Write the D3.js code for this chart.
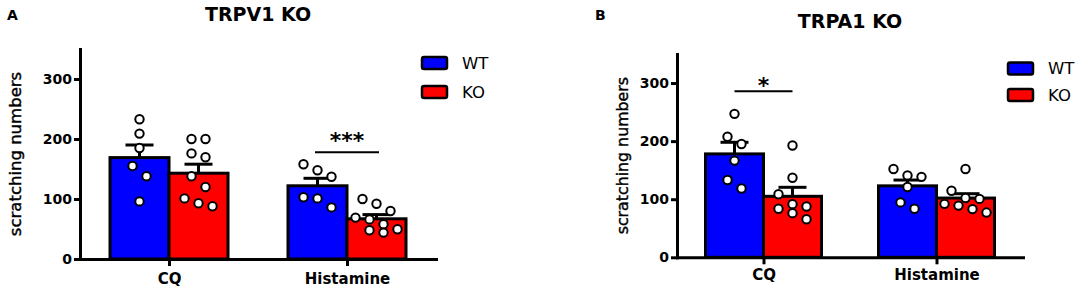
<!DOCTYPE html>
<html>

<head>
	<title>TRPV1 / TRPA1 KO scratching</title>
	<style>
		body,
		html {
			margin: 0;
			padding: 0;
			background: #fff;
		}

		text {
			font-family: 'DejaVu Sans', sans-serif;
		}
	</style>
</head>

<body>

	<svg id="svg" width="1084" height="291"></svg>

	<script src="https://d3js.org/d3.v7.min.js"></script>
	<script>
		// Data
		const groups = ['CQ', 'Histamine']
		const genotypes = ['WT', 'KO']
		const yTicks = [0, 100, 200, 300]

		// Panel A - TRPV1 KO
		const trpv1WtMean = [169, 122]
		const trpv1KoMean = [143, 67]
		const trpv1WtSem = [21, 12.5]
		const trpv1KoSem = [15, 7]
		const trpv1WtPoints = [
			[233, 209, 185, 155, 138, 96],
			[158, 148, 137, 103, 101, 86]
		]
		const trpv1KoPoints = [
			[200, 200, 176, 169.5, 138, 120, 101, 93, 88],
			[100, 92, 80, 69, 66, 58, 49.5, 48, 44]
		]

		// Panel B - TRPA1 KO
		const trpa1WtMean = [178, 123]
		const trpa1KoMean = [105, 102]
		const trpa1WtSem = [20, 10]
		const trpa1KoSem = [15.5, 7.5]
		const trpa1WtPoints = [
			[247, 207.5, 195, 166.5, 133, 118.5],
			[152, 141, 138.5, 121, 94.5, 83.5]
		]
		const trpa1KoPoints = [
			[192.5, 137, 108.5, 91.5, 87.5, 83.5, 76, 65.5],
			[152, 114.5, 102, 100.5, 92, 89, 83, 77]
		]

		const colors = { WT: '#0000ff', KO: '#ff0000' }

		const svg = d3.select('#svg')

		// Spread the dots of one bar in rows, like a scatter dot plot
		function swarm(values, y, cx, step) {
			const sorted = values.slice().sort((a, b) => b - a)
			const out = []
			let row = []
			const flush = () => {
				row.forEach((v, i) => out.push({ v, x: cx + (i - (row.length - 1) / 2) * step }))
				row = []
			}
			sorted.forEach(v => {
				if (row.length && (y(v) - y(row[0]) >= 13 || row.length === 4)) flush()
				row.push(v)
			})
			flush()
			return out
		}

		function drawPanel(p) {
			const g = svg.append('g')

			const x = d3.scalePoint()
				.domain(groups)
				.range([p.left, p.right])
				.padding(0.5)

			const y = d3.scaleLinear()
				.domain([0, 350])
				.range([p.bottom, p.top])

			const series = [
				{ key: 'WT', mean: p.wtMean, sem: p.wtSem, pts: p.wtPoints, side: -1 },
				{ key: 'KO', mean: p.koMean, sem: p.koSem, pts: p.koPoints, side: 1 }
			]

			// one record per bar
			const bars = []
			series.forEach(s => groups.forEach((grp, i) => {
				const cx = x(grp) + s.side * p.barW / 2
				bars.push({ key: s.key, grp, cx, mean: s.mean[i], sem: s.sem[i], pts: s.pts[i] })
			}))

			// bars
			g.selectAll('rect.bar')
				.data(bars)
				.join('rect')
				.attr('class', 'bar')
				.attr('x', d => d.cx - p.barW / 2)
				.attr('y', d => y(d.mean))
				.attr('width', p.barW)
				.attr('height', d => y(0) - y(d.mean))
				.attr('fill', d => colors[d.key])
				.attr('stroke', '#000')
				.attr('stroke-width', 3)

			// error bars (upper half only)
			const err = g.selectAll('g.err')
				.data(bars)
				.join('g')
				.attr('class', 'err')
				.attr('stroke', '#000')
				.attr('stroke-width', 3)
			err.append('line')
				.attr('x1', d => d.cx).attr('x2', d => d.cx)
				.attr('y1', d => y(d.mean)).attr('y2', d => y(d.mean + d.sem))
			err.append('line')
				.attr('x1', d => d.cx - 14).attr('x2', d => d.cx + 14)
				.attr('y1', d => y(d.mean + d.sem)).attr('y2', d => y(d.mean + d.sem))

			// individual animals
			bars.forEach(b => {
				g.append('g')
					.selectAll('circle')
					.data(swarm(b.pts, y, b.cx, 14))
					.join('circle')
					.attr('cx', d => d.x)
					.attr('cy', d => y(d.v))
					.attr('r', 4.2)
					.attr('fill', '#fff')
					.attr('stroke', '#000')
					.attr('stroke-width', 2)
			})

			// axes
			const yAxis = g.append('g')
				.attr('transform', `translate(${p.left},0)`)
				.call(d3.axisLeft(y).tickValues(yTicks).tickSize(6).tickSizeOuter(0).tickPadding(2))
			const xAxis = g.append('g')
				.attr('transform', `translate(0,${p.bottom})`)
				.call(d3.axisBottom(x).tickSize(7).tickSizeOuter(0).tickPadding(p.xPad))

			;[yAxis, xAxis].forEach(a => {
				a.selectAll('path, line').attr('stroke', '#000').attr('stroke-width', 3)
				a.select('.domain').attr('stroke-linecap', 'square')
				a.selectAll('text')
					.attr('fill', '#000')
					.style('font-family', 'DejaVu Sans')
					.style('font-weight', 'bold')
			})
			yAxis.selectAll('text').style('font-size', '14px')
			xAxis.selectAll('text').style('font-size', '15px')

			// y label
			g.append('text')
				.attr('transform', `translate(${p.yLabX},${(p.top + p.bottom) / 2}) rotate(-90)`)
				.attr('text-anchor', 'middle')
				.attr('dominant-baseline', 'central')
				.attr('stroke', '#000').attr('stroke-width', 0.4)
				.style('font-size', p.yLabSize + 'px')
				.text('scratching numbers')

			// title and panel letter
			g.append('text')
				.attr('x', p.titleX).attr('y', p.titleY)
				.attr('text-anchor', 'middle')
				.style('font-size', '19px').style('font-weight', 'bold')
				.text(p.title)
			g.append('text')
				.attr('x', p.letterX).attr('y', 20)
				.style('font-size', '14px').style('font-weight', 'bold')
				.text(p.letter)

			// significance
			const sx = x(p.sigGroup)
			g.append('line')
				.attr('x1', sx - p.sigHalf).attr('x2', sx + p.sigHalf)
				.attr('y1', y(p.sigAt)).attr('y2', y(p.sigAt))
				.attr('stroke', '#000').attr('stroke-width', 2)
			g.append('text')
				.attr('x', sx).attr('y', y(p.sigAt) - p.starGap)
				.attr('text-anchor', 'middle')
				.style('font-size', '22px').style('font-weight', 'bold')
				.text(p.stars)

			// legend
			const leg = g.selectAll('g.leg')
				.data(genotypes)
				.join('g')
				.attr('class', 'leg')
				.attr('transform', (d, i) => `translate(${p.legX},${p.legY + i * p.legStep})`)
			leg.append('rect')
				.attr('x', 0).attr('y', -6)
				.attr('width', 25).attr('height', 12)
				.attr('rx', 2)
				.attr('fill', d => colors[d])
				.attr('stroke', '#000').attr('stroke-width', 2.5)
			leg.append('text')
				.attr('x', 40).attr('y', 0)
				.attr('dominant-baseline', 'central')
				.style('font-size', '16.5px')
				.text(d => d)
		}

		drawPanel({
			title: 'TRPV1 KO', letter: 'A', letterX: 7, titleX: 258, titleY: 21,
			left: 80, right: 436, top: 49, bottom: 259, barW: 59, xPad: 7,
			yLabX: 15.5, yLabSize: 16.5,
			wtMean: trpv1WtMean, koMean: trpv1KoMean, wtSem: trpv1WtSem, koSem: trpv1KoSem,
			wtPoints: trpv1WtPoints, koPoints: trpv1KoPoints,
			sigGroup: 'Histamine', sigAt: 178, sigHalf: 32, stars: '***', starGap: 4,
			legX: 422, legY: 63, legStep: 29
		})

		drawPanel({
			title: 'TRPA1 KO', letter: 'B', letterX: 595, titleX: 850, titleY: 28,
			left: 677, right: 1023, top: 54, bottom: 257.3, barW: 58, xPad: 5,
			yLabX: 622, yLabSize: 15.8,
			wtMean: trpa1WtMean, koMean: trpa1KoMean, wtSem: trpa1WtSem, koSem: trpa1KoSem,
			wtPoints: trpa1WtPoints, koPoints: trpa1KoPoints,
			sigGroup: 'CQ', sigAt: 286, sigHalf: 29, stars: '*', starGap: -2,
			legX: 1008, legY: 68.5, legStep: 26.5
		})
	</script>
</body>

</html>
